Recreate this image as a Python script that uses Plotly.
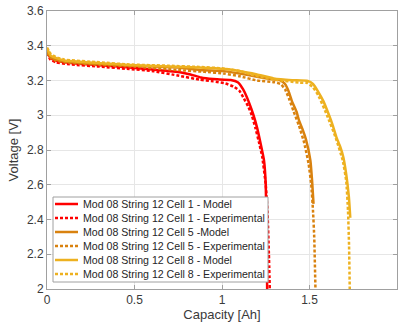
import plotly.graph_objects as go

# Discharge curves: capacity [Ah] vs terminal voltage [V]
cap_c1_model = [0, 0.02, 0.05, 0.1, 0.2, 0.3, 0.47, 0.6, 0.76, 0.82, 0.88, 0.95, 1.05, 1.09, 1.12,
                1.153, 1.18, 1.2, 1.22, 1.24, 1.25, 1.255, 1.258]
v_c1_model = [3.37, 3.33, 3.315, 3.305, 3.295, 3.288, 3.275, 3.263, 3.248, 3.235, 3.217, 3.208, 3.203,
              3.19, 3.15, 3.077, 3.0, 2.93, 2.84, 2.74, 2.6, 2.3, 2.0]

cap_c1_exp = [0, 0.02, 0.05, 0.13, 0.3, 0.47, 0.6, 0.756, 0.87, 0.95, 1.02, 1.068, 1.1, 1.125, 1.15,
              1.17, 1.19, 1.21, 1.23, 1.25, 1.26, 1.268, 1.273]
v_c1_exp = [3.36, 3.32, 3.305, 3.293, 3.28, 3.266, 3.255, 3.227, 3.205, 3.195, 3.183, 3.164, 3.14,
            3.097, 3.05, 3.0, 2.93, 2.85, 2.76, 2.6, 2.45, 2.2, 2.0]

cap_c5_model = [0, 0.02, 0.05, 0.1, 0.3, 0.5, 0.75, 0.87, 1.01, 1.1, 1.2, 1.3, 1.335, 1.36, 1.38, 1.4,
                1.426, 1.44, 1.46, 1.48, 1.505, 1.515, 1.523]
v_c5_model = [3.37, 3.335, 3.32, 3.31, 3.295, 3.285, 3.275, 3.26, 3.254, 3.24, 3.222, 3.205, 3.2,
              3.18, 3.14, 3.08, 3.02, 2.97, 2.92, 2.86, 2.74, 2.62, 2.49]

cap_c5_exp = [0, 0.02, 0.05, 0.1, 0.3, 0.5, 0.75, 0.9, 1.01, 1.1, 1.2, 1.3, 1.335, 1.36, 1.385, 1.41,
              1.44, 1.47, 1.495, 1.51, 1.52, 1.527, 1.534]
v_c5_exp = [3.36, 3.33, 3.315, 3.305, 3.29, 3.28, 3.26, 3.25, 3.24, 3.225, 3.2, 3.19, 3.18, 3.15,
            3.09, 3.02, 2.94, 2.84, 2.72, 2.6, 2.45, 2.3, 2.0]

cap_c8_model = [0, 0.02, 0.05, 0.1, 0.3, 0.47, 0.7, 0.87, 1.02, 1.1, 1.2, 1.295, 1.4, 1.49, 1.52, 1.55,
                1.58, 1.608, 1.63, 1.653, 1.675, 1.693, 1.71, 1.725, 1.733]
v_c8_model = [3.385, 3.345, 3.33, 3.315, 3.3, 3.289, 3.28, 3.275, 3.266, 3.255, 3.235, 3.212, 3.202,
              3.198, 3.18, 3.135, 3.08, 3.01, 2.95, 2.876, 2.82, 2.76, 2.66, 2.53, 2.41]

cap_c8_exp = [0, 0.02, 0.05, 0.1, 0.3, 0.47, 0.7, 0.87, 1.0, 1.1, 1.2, 1.3, 1.44, 1.49, 1.52, 1.55,
              1.6, 1.65, 1.69, 1.71, 1.72, 1.726, 1.73]
v_c8_exp = [3.39, 3.355, 3.335, 3.32, 3.305, 3.292, 3.285, 3.278, 3.27, 3.255, 3.225, 3.205, 3.188,
            3.185, 3.16, 3.115, 3.0, 2.87, 2.74, 2.62, 2.45, 2.25, 2.0]

series_names = [
    "Mod 08 String 12 Cell 1 - Model",
    "Mod 08 String 12 Cell 1 - Experimental",
    "Mod 08 String 12 Cell 5 -Model",
    "Mod 08 String 12 Cell 5 - Experimental",
    "Mod 08 String 12 Cell 8 - Model",
    "Mod 08 String 12 Cell 8 - Experimental",
]

x_ticks = [0, 0.5, 1, 1.5, 2]
x_tick_labels = ["0", "0.5", "1", "1.5", "2"]
y_ticks = [2, 2.2, 2.4, 2.6, 2.8, 3, 3.2, 3.4, 3.6]
y_tick_labels = ["2", "2.2", "2.4", "2.6", "2.8", "3", "3.2", "3.4", "3.6"]

RED = "#FF0000"
ORANGE = "#D9820F"
YELLOW = "#EDB120"
DOT = "3px,2px"
FONT = "Liberation Sans, Arial"
TEXT = "#3a3a3a"
FRAME = "#a0a0a0"

curves = [
    (cap_c1_model, v_c1_model, RED, "solid"),
    (cap_c1_exp, v_c1_exp, RED, DOT),
    (cap_c5_model, v_c5_model, ORANGE, "solid"),
    (cap_c5_exp, v_c5_exp, ORANGE, DOT),
    (cap_c8_model, v_c8_model, YELLOW, "solid"),
    (cap_c8_exp, v_c8_exp, YELLOW, DOT),
]

fig = go.Figure()
for (xs, ys, color, dash), name in zip(curves, series_names):
    fig.add_trace(go.Scatter(
        x=xs, y=ys, mode="lines", name=name, showlegend=False,
        line=dict(color=color, width=2.5, dash=dash, shape="spline", smoothing=0.4),
    ))

# Figure geometry (pixels)
W, H = 398, 326
ML, MR, MT, MB = 47, 1, 11, 37
PW, PH = W - ML - MR, H - MT - MB


def px_x(px):
    return (px - ML) / PW


def px_y(py):
    return (H - MB - py) / PH


# Compact legend box drawn in paper coordinates
box_left, box_right, box_top, box_bottom = 53, 268, 197, 282
row_top, row_step = 204, 14
sample_x0, sample_x1, text_x = 55, 78, 81

shapes = [dict(
    type="rect", xref="paper", yref="paper",
    x0=px_x(box_left), x1=px_x(box_right), y0=px_y(box_bottom), y1=px_y(box_top),
    line=dict(color=FRAME, width=1), fillcolor="white", layer="above",
)]
annotations = []
for i, ((_, _, color, dash), name) in enumerate(zip(curves, series_names)):
    yy = px_y(row_top + i * row_step)
    shapes.append(dict(
        type="line", xref="paper", yref="paper",
        x0=px_x(sample_x0), x1=px_x(sample_x1), y0=yy, y1=yy,
        line=dict(color=color, width=2.5, dash=dash), layer="above",
    ))
    annotations.append(dict(
        xref="paper", yref="paper", x=px_x(text_x), y=yy, xanchor="left", yanchor="middle",
        text=name, showarrow=False, font=dict(family=FONT, size=10.6, color="#262626"),
    ))

axis_common = dict(
    showline=True, linecolor=FRAME, linewidth=1, mirror="ticks",
    ticks="inside", ticklen=4, tickcolor=FRAME,
    showgrid=True, gridcolor="#e6e6e6", gridwidth=1,
    zeroline=False,
    tickfont=dict(family=FONT, size=12, color=TEXT),
)

fig.update_xaxes(
    range=[0, 2], tickvals=x_ticks, ticktext=x_tick_labels,
    title=dict(text="Capacity [Ah]", font=dict(family=FONT, size=13, color=TEXT), standoff=2),
    **axis_common,
)
fig.update_yaxes(
    range=[2, 3.6], tickvals=y_ticks, ticktext=y_tick_labels,
    title=dict(text="Voltage [V]", font=dict(family=FONT, size=13, color=TEXT), standoff=5),
    **axis_common,
)

fig.update_layout(
    width=W, height=H,
    margin=dict(l=ML, r=MR, t=MT, b=MB),
    paper_bgcolor="white", plot_bgcolor="white",
    showlegend=False,
    shapes=shapes,
    annotations=annotations,
)

fig.write_html("out.html")
